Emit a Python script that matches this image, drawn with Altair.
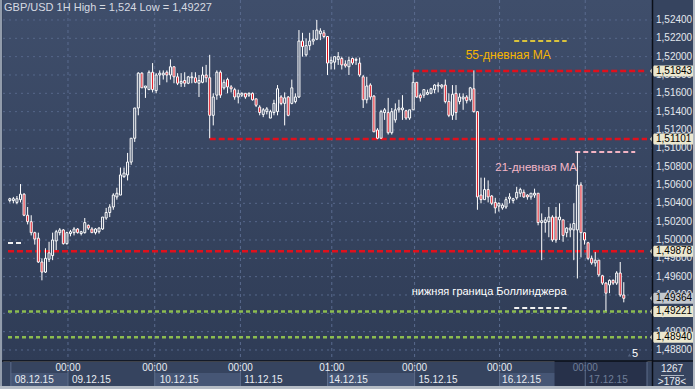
import altair as alt
import pandas as pd

# ---------------- hourly candles GBP/USD (08.12.15 ... 17.12.15) ----------------
opens = [
    1.5043, 1.5043, 1.5041, 1.5044, 1.5050, 1.5027, 1.5020, 1.5008, 1.5002, 1.4976,
    1.4965, 1.4979, 1.4983, 1.4999, 1.5008, 1.5011, 1.4996, 1.5007, 1.5008, 1.5012,
    1.5007, 1.5008, 1.5016, 1.5012, 1.5008, 1.5009, 1.5012, 1.5024, 1.5030, 1.5036,
    1.5047, 1.5049, 1.5069, 1.5071, 1.5085, 1.5111, 1.5144, 1.5182, 1.5166, 1.5164,
    1.5183, 1.5163, 1.5180, 1.5180, 1.5183, 1.5180, 1.5189, 1.5178, 1.5171, 1.5174,
    1.5171, 1.5177, 1.5177, 1.5171, 1.5172, 1.5180, 1.5177, 1.5136, 1.5158, 1.5183,
    1.5166, 1.5175, 1.5167, 1.5164, 1.5156, 1.5158, 1.5160, 1.5158, 1.5160, 1.5154,
    1.5145, 1.5137, 1.5140, 1.5133, 1.5139, 1.5140, 1.5156, 1.5149, 1.5156, 1.5149,
    1.5151, 1.5156, 1.5217, 1.5202, 1.5212, 1.5217, 1.5219, 1.5225, 1.5226, 1.5222,
    1.5193, 1.5194, 1.5197, 1.5198, 1.5192, 1.5189, 1.5198, 1.5196, 1.5193, 1.5178,
    1.5153, 1.5169, 1.5157, 1.5120, 1.5111, 1.5139, 1.5139, 1.5117, 1.5131, 1.5142,
    1.5142, 1.5141, 1.5133, 1.5142, 1.5172, 1.5158, 1.5158, 1.5159, 1.5160, 1.5164,
    1.5168, 1.5167, 1.5169, 1.5151, 1.5136, 1.5160, 1.5151, 1.5154, 1.5156, 1.5153,
    1.5165, 1.5140, 1.5049, 1.5044, 1.5055, 1.5048, 1.5041, 1.5037, 1.5035, 1.5036,
    1.5045, 1.5043, 1.5046, 1.5051, 1.5052, 1.5049, 1.5047, 1.5049, 1.5051, 1.5019,
    1.5019, 1.5020, 1.5025, 1.5025, 1.5022, 1.5022, 1.5008, 1.5011, 1.5011, 1.5011,
    1.5060, 1.5008, 1.4997, 1.4980, 1.4975, 1.4978, 1.4961, 1.4953, 1.4951, 1.4956,
    1.4953, 1.4964, 1.4940,
]
highs = [
    1.5046, 1.5047, 1.5048, 1.5061, 1.5051, 1.5036, 1.5027, 1.5009, 1.5008, 1.4980,
    1.4991, 1.4998, 1.5008, 1.5011, 1.5013, 1.5012, 1.5009, 1.5011, 1.5014, 1.5013,
    1.5010, 1.5024, 1.5017, 1.5014, 1.5013, 1.5014, 1.5025, 1.5035, 1.5039, 1.5051,
    1.5057, 1.5079, 1.5079, 1.5095, 1.5111, 1.5144, 1.5183, 1.5183, 1.5168, 1.5185,
    1.5193, 1.5182, 1.5185, 1.5185, 1.5185, 1.5197, 1.5189, 1.5182, 1.5182, 1.5183,
    1.5179, 1.5183, 1.5183, 1.5180, 1.5189, 1.5191, 1.5202, 1.5160, 1.5185, 1.5185,
    1.5175, 1.5177, 1.5169, 1.5166, 1.5164, 1.5161, 1.5160, 1.5161, 1.5161, 1.5154,
    1.5147, 1.5144, 1.5145, 1.5142, 1.5153, 1.5169, 1.5158, 1.5161, 1.5157, 1.5175,
    1.5160, 1.5229, 1.5226, 1.5220, 1.5226, 1.5229, 1.5240, 1.5231, 1.5229, 1.5222,
    1.5200, 1.5200, 1.5205, 1.5200, 1.5196, 1.5200, 1.5199, 1.5199, 1.5199, 1.5180,
    1.5178, 1.5171, 1.5158, 1.5122, 1.5142, 1.5144, 1.5155, 1.5144, 1.5149, 1.5153,
    1.5158, 1.5142, 1.5142, 1.5183, 1.5172, 1.5160, 1.5164, 1.5164, 1.5166, 1.5170,
    1.5172, 1.5170, 1.5175, 1.5160, 1.5169, 1.5169, 1.5160, 1.5160, 1.5158, 1.5167,
    1.5185, 1.5140, 1.5068, 1.5068, 1.5065, 1.5049, 1.5046, 1.5041, 1.5040, 1.5047,
    1.5051, 1.5046, 1.5058, 1.5057, 1.5055, 1.5050, 1.5051, 1.5056, 1.5051, 1.5029,
    1.5025, 1.5036, 1.5027, 1.5036, 1.5040, 1.5022, 1.5014, 1.5018, 1.5040, 1.5096,
    1.5063, 1.5008, 1.4998, 1.4983, 1.4987, 1.4978, 1.4962, 1.4954, 1.4957, 1.4957,
    1.4966, 1.4976, 1.4954,
]
lows = [
    1.5041, 1.5040, 1.5039, 1.5041, 1.5026, 1.5017, 1.5005, 1.4995, 1.4975, 1.4956,
    1.4964, 1.4976, 1.4978, 1.4989, 1.5005, 1.4995, 1.4995, 1.5004, 1.5005, 1.5007,
    1.5005, 1.5007, 1.5011, 1.5008, 1.5006, 1.5007, 1.5011, 1.5022, 1.5025, 1.5033,
    1.5044, 1.5049, 1.5068, 1.5065, 1.5082, 1.5107, 1.5136, 1.5166, 1.5155, 1.5164,
    1.5161, 1.5160, 1.5169, 1.5175, 1.5172, 1.5175, 1.5171, 1.5169, 1.5167, 1.5167,
    1.5170, 1.5171, 1.5171, 1.5156, 1.5171, 1.5172, 1.5111, 1.5125, 1.5153, 1.5155,
    1.5164, 1.5160, 1.5161, 1.5153, 1.5149, 1.5156, 1.5154, 1.5156, 1.5152, 1.5145,
    1.5136, 1.5134, 1.5137, 1.5133, 1.5136, 1.5136, 1.5147, 1.5125, 1.5135, 1.5148,
    1.5149, 1.5155, 1.5200, 1.5200, 1.5207, 1.5213, 1.5218, 1.5218, 1.5220, 1.5180,
    1.5186, 1.5186, 1.5191, 1.5186, 1.5188, 1.5180, 1.5191, 1.5191, 1.5178, 1.5144,
    1.5149, 1.5153, 1.5118, 1.5110, 1.5111, 1.5131, 1.5115, 1.5115, 1.5128, 1.5139,
    1.5131, 1.5131, 1.5131, 1.5142, 1.5155, 1.5151, 1.5155, 1.5158, 1.5159, 1.5160,
    1.5161, 1.5165, 1.5149, 1.5134, 1.5131, 1.5131, 1.5148, 1.5142, 1.5149, 1.5151,
    1.5139, 1.5033, 1.5040, 1.5044, 1.5041, 1.5038, 1.5029, 1.5031, 1.5033, 1.5034,
    1.5040, 1.5040, 1.5044, 1.5047, 1.5046, 1.5044, 1.5044, 1.5046, 1.5016, 1.4978,
    1.5008, 1.5003, 1.4998, 1.4997, 1.5000, 1.4998, 1.5003, 1.5003, 1.4978, 1.4958,
    1.4981, 1.4995, 1.4978, 1.4973, 1.4971, 1.4960, 1.4951, 1.49227, 1.4942, 1.4951,
    1.4951, 1.4938, 1.4932,
]
closes = [
    1.5045, 1.5045, 1.5045, 1.5050, 1.5027, 1.5020, 1.5008, 1.5001, 1.4976, 1.4965,
    1.4980, 1.4986, 1.5000, 1.5009, 1.5011, 1.4996, 1.5008, 1.5009, 1.5012, 1.5008,
    1.5009, 1.5019, 1.5013, 1.5008, 1.5012, 1.5013, 1.5025, 1.5030, 1.5036, 1.5049,
    1.5051, 1.5071, 1.5073, 1.5085, 1.5111, 1.5144, 1.5182, 1.5166, 1.5168, 1.5183,
    1.5164, 1.5180, 1.5182, 1.5182, 1.5180, 1.5189, 1.5178, 1.5171, 1.5173, 1.5171,
    1.5178, 1.5178, 1.5172, 1.5174, 1.5180, 1.5177, 1.5136, 1.5156, 1.5183, 1.5158,
    1.5172, 1.5167, 1.5165, 1.5156, 1.5160, 1.5160, 1.5156, 1.5160, 1.5153, 1.5147,
    1.5139, 1.5142, 1.5143, 1.5140, 1.5149, 1.5165, 1.5149, 1.5155, 1.5136, 1.5166,
    1.5156, 1.5217, 1.5211, 1.5212, 1.5217, 1.5219, 1.5229, 1.5228, 1.5222, 1.5193,
    1.5196, 1.5200, 1.5200, 1.5191, 1.5190, 1.5196, 1.5193, 1.5197, 1.5180, 1.5153,
    1.5168, 1.5156, 1.5118, 1.5111, 1.5140, 1.5142, 1.5117, 1.5140, 1.5142, 1.5144,
    1.5144, 1.5133, 1.5142, 1.5172, 1.5156, 1.5155, 1.5164, 1.5161, 1.5165, 1.5169,
    1.5169, 1.5169, 1.5151, 1.5136, 1.5159, 1.5139, 1.5156, 1.5156, 1.5152, 1.5166,
    1.5140, 1.5047, 1.5044, 1.5055, 1.5047, 1.5040, 1.5035, 1.5040, 1.5038, 1.5044,
    1.5047, 1.5045, 1.5052, 1.5055, 1.5047, 1.5047, 1.5051, 1.5051, 1.5019, 1.5021,
    1.5022, 1.5025, 1.5000, 1.5000, 1.5025, 1.5005, 1.5013, 1.5013, 1.5018, 1.5060,
    1.5008, 1.5000, 1.4980, 1.4975, 1.4978, 1.4962, 1.4953, 1.4942, 1.4956, 1.4953,
    1.4964, 1.4940, 1.49364,
]

title_text = "GBP/USD 1H High = 1,524 Low = 1,49227"

# price axis ticks
y_ticks = [1.488, 1.490, 1.492, 1.494, 1.496, 1.498, 1.500, 1.502, 1.504, 1.506,
           1.508, 1.510, 1.512, 1.514, 1.516, 1.518, 1.520, 1.522, 1.524]

# support / resistance levels (dashed, with price tags)
level_prices = [1.51843, 1.51101, 1.49878, 1.49221, 1.48940]
level_start = [113, 56, -0.5, -0.5, -0.5]
level_kind = ["red", "red", "red", "green", "green"]
last_price = 1.49364

# short indicator marks
ma_prices = [1.5217, 1.5096, 1.49258, 1.49967]
ma_from = [141.3, 158.4, 141.3, -0.5]
ma_to = [156.0, 175.2, 156.0, 4.0]
ma_colors = ["#d9c23c", "#f2b3c3", "#f2f2f2", "#f2f2f2"]

note_texts = ["55-дневная МА", "21-дневная МА", "нижняя граница Боллинджера", "5"]
note_x = [127.7, 136.0, 112.6, 174.3]
note_y = [1.52018, 1.50785, 1.49433, 1.48756]
note_colors = ["#f5b400", "#f4b6c6", "#ffffff", "#ffffff"]
note_sizes = [12, 11.5, 11, 11]

# time axis
day_bounds = [16.3, 40.6, 64.6, 90.2, 113.4, 137.2, 161.2]
time_labels = ["00:00", "00:00", "00:00", "01:00", "00:00", "00:00", "00:00"]
date_labels = ["08.12.15", "09.12.15", "10.12.15", "11.12.15", "14.12.15", "15.12.15", "16.12.15", "17.12.15"]
date_pos = [1.4, 17.4, 42.0, 65.7, 89.4, 114.5, 137.9, 162.2]
box_edges = [0.3, 16.3, 40.6, 64.6, 89.0, 113.4, 137.2, 161.2, 178.5]

# ---------------- building ----------------
FONT = "Liberation Sans"
W, H = 649, 361

xs = alt.Scale(domain=[-0.5, 178.5], nice=False, zero=False)
ys = alt.Scale(domain=[1.4868, 1.52618], nice=False, zero=False)


def X(f):
    return alt.X(f, type="quantitative", scale=xs, axis=None)


def Y(f):
    return alt.Y(f, type="quantitative", scale=ys, axis=None)


one = pd.DataFrame({"k": [0]})
fmt = "replace(format(datum.p, '.5f'), '.', ',')"

cdf = pd.DataFrame({"i": list(range(len(opens))), "o": opens, "h": highs, "l": lows, "c": closes})
cdf["top"] = cdf[["o", "c"]].max(axis=1)
cdf["bot"] = cdf[["o", "c"]].min(axis=1)
up = cdf[cdf["c"] >= cdf["o"]]
dn = cdf[cdf["c"] < cdf["o"]]

bg = alt.Chart(one).mark_rect(
    color=alt.Gradient(
        gradient="linear",
        stops=[alt.GradientStop(color="#3f4e6b", offset=0), alt.GradientStop(color="#2f3c56", offset=1)],
        x1=0, x2=0, y1=0, y2=1,
    )
).encode(x=alt.value(0), x2=alt.value(W), y=alt.value(0), y2=alt.value(H))

# bottom panel boxes
bdf = pd.DataFrame({"a": box_edges[:-1], "b": box_edges[1:], "light": [1, 0, 1, 0, 1, 0, 1, 0]})
boxes = alt.Chart(bdf).transform_filter("datum.light == 1").mark_rect(color="#465675").encode(
    x=X("a"), x2="b", y=alt.value(373), y2=alt.value(386))
box_sep = alt.Chart(pd.DataFrame({"x": box_edges})).mark_rule(color="#5d6d8b", strokeWidth=1).encode(
    x=X("x"), y=alt.value(361), y2=alt.value(386))
dark = alt.Chart(pd.DataFrame({"a": [152.6], "b": [178.5]})).mark_rect(color="#27314a").encode(
    x=X("a"), x2="b", y=alt.value(361), y2=alt.value(386))

# grid + price scale labels
gdf = pd.DataFrame({"p": y_ticks})
hgrid = alt.Chart(gdf).mark_rule(color="#56678a", strokeDash=[2, 4], strokeWidth=1).encode(
    y=Y("p"), x=alt.value(0), x2=alt.value(W))
ylabels = alt.Chart(gdf).transform_calculate(lab=fmt).mark_text(
    font=FONT, fontSize=10, align="left", baseline="middle", color="#e4e8ee"
).encode(x=alt.value(653), y=Y("p"), text="lab:N")
vgrid = alt.Chart(pd.DataFrame({"x": day_bounds})).mark_rule(
    color="#5a6b8e", strokeDash=[3, 3], strokeWidth=1
).encode(x=X("x"), y=alt.value(0), y2=alt.value(H))

# level lines
ldf = pd.DataFrame({"p": level_prices, "s": level_start, "kind": level_kind, "e": [178.5] * 5})
red_lines = alt.Chart(ldf).transform_filter("datum.kind == 'red'").mark_rule(
    color="#e0101c", strokeWidth=2.5, strokeDash=[6, 3]).encode(x=X("s"), x2="e", y=Y("p"))
green_lines = alt.Chart(ldf).transform_filter("datum.kind == 'green'").mark_rule(
    color="#8cbc50", strokeWidth=2.5, strokeDash=[4, 3]).encode(x=X("s"), x2="e", y=Y("p"))

mdf = pd.DataFrame({"p": ma_prices, "a": ma_from, "b": ma_to, "col": ma_colors})
ma_lines = alt.Chart(mdf).mark_rule(strokeWidth=2, strokeDash=[5, 3]).encode(
    x=X("a"), x2="b", y=Y("p"), color=alt.Color("col:N", scale=None))

# candles
wick_hi = alt.Chart(cdf).mark_rule(color="#ffffff", strokeWidth=1).encode(x=X("i"), y=Y("h"), y2="top")
wick_lo = alt.Chart(cdf).mark_rule(color="#ffffff", strokeWidth=1).encode(x=X("i"), y=Y("bot"), y2="l")
body_up = alt.Chart(up).mark_bar(width=2, fillOpacity=0, stroke="#ffffff", strokeWidth=1).encode(
    x=X("i"), y=Y("bot"), y2="top")
body_dn = alt.Chart(dn).mark_bar(width=2, fill="#e0101c", stroke="#ffffff", strokeWidth=1).encode(
    x=X("i"), y=Y("bot"), y2="top")

# annotations
ndf = pd.DataFrame({"t": note_texts, "x": note_x, "p": note_y, "col": note_colors, "s": note_sizes})
notes = alt.Chart(ndf).mark_text(font=FONT, align="left", baseline="middle").encode(
    x=X("x"), y=Y("p"), text="t", color=alt.Color("col:N", scale=None), size=alt.Size("s:Q", scale=None))
tri = alt.Chart(one).mark_point(shape="triangle-up", size=12, filled=True, color="#52627f", opacity=1).encode(
    x=alt.value(626.5), y=alt.value(355))

# price tags
tag_shape = "M -1 0 L -0.814 -0.256 L 1 -0.256 L 1 0.256 L -0.814 0.256 Z"
tdf = pd.DataFrame({"p": level_prices + [last_price],
                    "col": ["#ebe7cf"] * 5 + ["#c3c8ce"]})
tags = alt.Chart(tdf).mark_point(shape=tag_shape, size=1849, filled=True, opacity=1, strokeWidth=0).encode(
    x=alt.value(668.5), y=Y("p"), color=alt.Color("col:N", scale=None))
tag_txt = alt.Chart(tdf).transform_calculate(lab=fmt).mark_text(
    font=FONT, fontSize=10, align="left", baseline="middle", color="#000000"
).encode(x=alt.value(653), y=Y("p"), text="lab:N")

# time axis labels
tl = pd.DataFrame({"x": day_bounds, "t": time_labels,
                   "col": ["#e8ecf2"] * 6 + ["#6f7e98"]})
time_txt = alt.Chart(tl).mark_text(font=FONT, fontSize=10, align="center", baseline="middle").encode(
    x=X("x"), y=alt.value(367.5), text="t", color=alt.Color("col:N", scale=None))
dl = pd.DataFrame({"x": date_pos, "t": date_labels, "col": ["#e8ecf2"] * 7 + ["#6f7e98"]})
date_txt = alt.Chart(dl).mark_text(font=FONT, fontSize=10, align="left", baseline="middle").encode(
    x=X("x"), y=alt.value(379.5), text="t", color=alt.Color("col:N", scale=None))

# frame / separators
vsep = alt.Chart(one).mark_rule(color="#0b0f18", strokeWidth=1.5).encode(
    x=alt.value(W + 0.5), y=alt.value(0), y2=alt.value(389))
hsep = alt.Chart(one).mark_rule(color="#0b0f18", strokeWidth=1.5).encode(
    x=alt.value(-3), x2=alt.value(692), y=alt.value(H))
left_b = alt.Chart(one).mark_rule(color="#929cab", strokeWidth=2).encode(
    x=alt.value(-2), y=alt.value(0), y2=alt.value(389))
right_b = alt.Chart(one).mark_rule(color="#b3bac3", strokeWidth=2).encode(
    x=alt.value(691), y=alt.value(0), y2=alt.value(389))
bottom_b = alt.Chart(one).mark_rule(color="#b5bcc5", strokeWidth=3).encode(
    x=alt.value(-3), x2=alt.value(692), y=alt.value(387.5))

title = alt.Chart(one).mark_text(font=FONT, fontSize=11, align="left", baseline="middle",
                                 color="#d6dae2").encode(
    x=alt.value(1), y=alt.value(7.5), text=alt.value(title_text))
cnt1 = alt.Chart(one).mark_text(font=FONT, fontSize=10, align="center", baseline="middle",
                                color="#e8ecf2").encode(x=alt.value(669), y=alt.value(368.5), text=alt.value("1267"))
cnt2 = alt.Chart(one).mark_text(font=FONT, fontSize=10, align="center", baseline="middle",
                                color="#e8ecf2").encode(x=alt.value(669), y=alt.value(381.5), text=alt.value(">178<"))
cnt_line = alt.Chart(one).mark_rule(color="#aeb6c2", strokeWidth=1).encode(
    x=alt.value(658), x2=alt.value(681), y=alt.value(375.5))

chart = alt.layer(
    bg, boxes, dark, box_sep, hgrid, vgrid, ylabels,
    red_lines, green_lines, ma_lines,
    wick_hi, wick_lo, body_up, body_dn,
    notes, tri, tags, tag_txt, time_txt, date_txt,
    vsep, hsep, left_b, right_b, bottom_b,
    title, cnt1, cnt2, cnt_line,
).properties(
    width=W, height=H,
    padding={"left": 3, "top": 0, "right": 43, "bottom": 28},
    autosize=alt.AutoSizeParams(type="none"),
).configure_view(stroke=None).configure(background="#36445f")

chart.save("out.html", embed_options={"renderer": "svg", "actions": False})
